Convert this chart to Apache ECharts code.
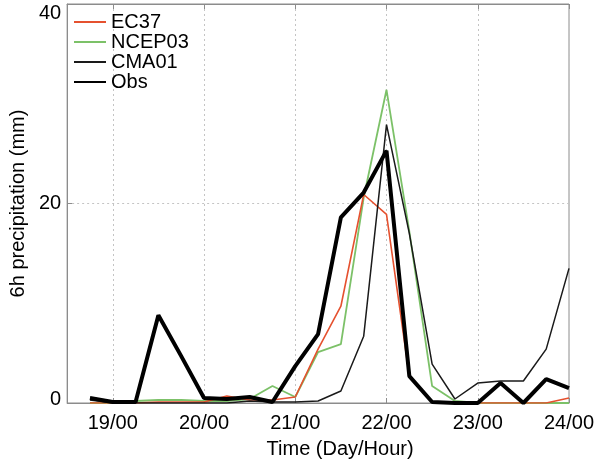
<!DOCTYPE html>
<html>
<head>
<meta charset="utf-8">
<script src="https://cdn.jsdelivr.net/npm/echarts@6/dist/echarts.min.js"></script>
<style>
  html, body { margin: 0; padding: 0; background: #fff; }
  #chart { width: 600px; height: 464px; }
</style>
</head>
<body>
<div id="chart"></div>
<script>
// 6-hourly time steps (Day/Hour)
const categories = ['18/12','18/18','19/00','19/06','19/12','19/18','20/00','20/06','20/12','20/18',
  '21/00','21/06','21/12','21/18','22/00','22/06','22/12','22/18','23/00','23/06','23/12','23/18','24/00'];

// 6h precipitation (mm)
const ec37   = [null,0,0,0,0.1,0.1,0.1,0.7,0.3,0.3,0.6,5.4,9.7,20.9,18.9,2.7,0.1,0,0,0,0,0,0.5];
const ncep03 = [null,0,0,0.2,0.3,0.3,0.2,0.2,0.4,1.7,0.6,5.1,5.9,20.6,31.4,17.2,1.7,0.2,0,0,0,0,0];
const cma01  = [null,0.3,0,0,0,0,0,0,0.2,0.1,0.1,0.2,1.2,6.7,27.9,17.0,3.9,0.4,2.0,2.2,2.2,5.4,13.5];
const obs    = [null,0.5,0.1,0.1,8.8,4.7,0.5,0.4,0.6,0.1,3.7,6.9,18.6,21.1,25.3,2.7,0.1,0,0,2.0,0,2.4,1.5];

const yTicks = [0, 20, 40];

const isDayStart = (i, v) => /\/00$/.test(categories[i]);
const font = 'Liberation Sans, Arial, sans-serif';
const frame = '#8c8c8c';
const yMin = yTicks[0], yMax = yTicks[yTicks.length - 1];

const chart = echarts.init(document.getElementById('chart'));
chart.setOption({
  animation: false,
  backgroundColor: '#fff',
  textStyle: { fontFamily: font },
  grid: { left: 61, right: 31, top: 4, bottom: 60, show: true, borderColor: frame, borderWidth: 1 },
  legend: {
    orient: 'vertical', left: 68, top: 7, itemGap: 0,
    itemWidth: 32, itemHeight: 14,
    itemStyle: { opacity: 0 },
    textStyle: { fontSize: 20, lineHeight: 20, color: '#000', fontFamily: font },
    data: ['EC37', 'NCEP03', 'CMA01', 'Obs']
  },
  xAxis: [{
    type: 'category', data: categories, boundaryGap: false,
    name: 'Time (Day/Hour)', nameLocation: 'middle', nameGap: 36,
    nameTextStyle: { fontSize: 20, color: '#000', padding: [0, 0, 0, 44] },
    axisLine: { lineStyle: { color: frame } },
    axisTick: { inside: true, length: 5, interval: isDayStart, lineStyle: { color: frame } },
    axisLabel: { interval: isDayStart, fontSize: 20, color: '#000', margin: 10 },
    splitLine: { show: true, interval: isDayStart, lineStyle: { color: '#c4c4c4', type: [2, 3] } }
  }, {
    type: 'category', data: categories, boundaryGap: false, position: 'top',
    axisLine: { lineStyle: { color: frame } },
    axisTick: { inside: true, length: 5, interval: isDayStart, lineStyle: { color: frame } },
    axisLabel: { show: false }
  }],
  yAxis: {
    type: 'value', min: yMin, max: yMax, interval: yTicks[1] - yTicks[0],
    name: '6h precipitation (mm)', nameLocation: 'middle', nameGap: 32,
    nameTextStyle: { fontSize: 20, color: '#000' },
    axisLine: { show: true, lineStyle: { color: frame } },
    axisTick: { show: true, inside: true, length: 5, lineStyle: { color: frame } },
    axisLabel: {
      fontSize: 20, color: '#000', margin: 6,
      // end labels are nudged inward so they stay beside the frame
      formatter: v => v === yMax ? '{hi|' + v + '}' : v === yMin ? '{lo|' + v + '}' : String(v),
      rich: {
        hi: { fontSize: 20, color: '#000', fontFamily: font, padding: [19, 0, 0, 0] },
        lo: { fontSize: 20, color: '#000', fontFamily: font, padding: [0, 0, 8, 0] }
      }
    },
    splitLine: { show: true, lineStyle: { color: '#c4c4c4', type: [2, 3] } }
  },
  series: [
    { name: 'EC37', type: 'line', data: ec37, symbol: 'none', z: 3,
      color: '#e5512f', lineStyle: { width: 1.6, color: '#e5512f' } },
    { name: 'NCEP03', type: 'line', data: ncep03, symbol: 'none', z: 2,
      color: '#7cc168', lineStyle: { width: 1.8, color: '#7cc168' } },
    { name: 'CMA01', type: 'line', data: cma01, symbol: 'none', z: 4,
      color: '#1a1a1a', lineStyle: { width: 1.5, color: '#1a1a1a' } },
    { name: 'Obs', type: 'line', data: obs, symbol: 'none', z: 5,
      color: '#000', lineStyle: { width: 4, color: '#000' } }
  ]
});
</script>
</body>
</html>
